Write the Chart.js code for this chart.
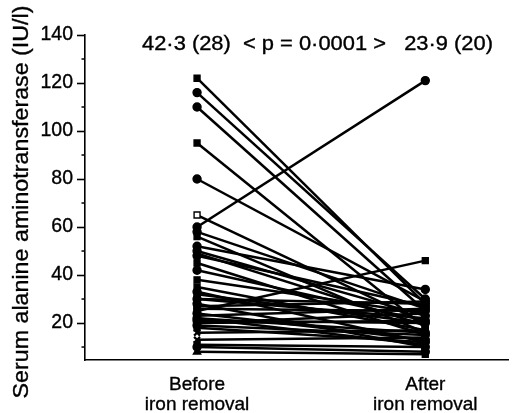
<!DOCTYPE html>
<html><head><meta charset="utf-8">
<script src="https://cdn.jsdelivr.net/npm/chart.js@4"></script>
<style>html,body{margin:0;padding:0;background:#fff}#w{width:515px;height:413px}</style>
</head><body><div id="w"><canvas id="c"></canvas></div>
<script>
const categories = [["Before","iron removal"],["After","iron removal"]];
const beforeValues = [122,116,110,95,80,65,60,58,56,52,50,49,48,45,42,38,35,33,32,30,30,28,27,26,25,24,23,22,22,21,20,20,19,18,16,13,11,10,8];
const afterValues  = [28,30,25,18,29,20,121,26,16,34,23,19,27,15,21,24,17,12,20,28,22,10,29,25,46,13,26,16,11,20,21,24,15,12,17,14,10,8,7];
const markers = ['rect','circle','circle','rect','circle','rectOpen','circle','circle','rect','circle','circle','rect','circle','rect','circle','rect','rect','circle','rect','circle','rect','circle','rect','rect','rect','circle','rect','circle','rect','circle','rect','rect','circle','rect','crossRot','crossRot','rect','circle','triangle'];
const afterMarkers = ['rect','circle','circle','rect','circle','rect','circle','circle','rect','circle','circle','rect','circle','rect','circle','rect','rect','circle','rect','circle','rect','circle','rect','rect','rect','circle','rect','circle','rect','circle','rect','rect','circle','rect','rect','rect','rect','circle','rect'];
const yTicks = [20,40,60,80,100,120,140];
const yMinorTicks = [10,30,50,70,90,110,130];
const headerText = "42\u00b73 (28)  < p = 0\u00b70001 >   23\u00b79 (20)";
const yTitle = "Serum alanine aminotransferase (IU/l)";

const FONT = "'Liberation Sans', Arial, Helvetica, sans-serif";

function styleOf(m){ return m==='rectOpen' ? 'rect' : m; }
const datasets = beforeValues.map((b,i)=>{
  const m0 = markers[i] || 'rect', m1 = afterMarkers[i] || 'rect';
  return {
    data:[{x:0,y:b},{x:1,y:afterValues[i]}],
    showLine:true,
    borderColor:'#000',
    borderWidth:2.5,
    pointStyle:[styleOf(m0), styleOf(m1)],
    pointBackgroundColor:[m0==='rectOpen'?'#fff':'#000', m1==='rectOpen'?'#fff':'#000'],
    pointBorderColor:'#000',
    pointBorderWidth:[m0==='crossRot'?2.2:1.4, m1==='crossRot'?2.2:1.4],
    pointRadius:[m0==='circle'?4:4.2, m1==='circle'?4:4.2],
    pointHoverRadius:4
  };
});

const deco = {
  id:'deco',
  afterDraw(chart){
    const ctx = chart.ctx;
    const y = chart.scales.y;
    ctx.save();
    ctx.strokeStyle='#000'; ctx.lineWidth=1.5;
    yMinorTicks.forEach(v=>{
      const py = y.getPixelForValue(v);
      ctx.beginPath(); ctx.moveTo(y.right-3.5,py); ctx.lineTo(y.right,py); ctx.stroke();
    });
    ctx.fillStyle='#000';
    ctx.strokeStyle='#000'; ctx.lineWidth=0.35;
    ctx.font = "20px " + FONT;
    ctx.textBaseline='alphabetic';
    ctx.textAlign='left';
    const w = ctx.measureText(headerText).width;
    ctx.save();
    ctx.translate(142,50);
    ctx.scale(351/w,1);
    ctx.fillText(headerText,0,0);
    ctx.strokeText(headerText,0,0);
    ctx.restore();
    ctx.translate(28,202);
    ctx.rotate(-Math.PI/2);
    ctx.font = "22px " + FONT;
    const tw = ctx.measureText(yTitle).width;
    ctx.scale(393/tw,1);
    ctx.textAlign='center';
    ctx.fillText(yTitle,0,0);
    ctx.strokeText(yTitle,0,0);
    ctx.restore();
  }
};

new Chart(document.getElementById('c'),{
  type:'scatter',
  data:{datasets},
  options:{
    responsive:true, maintainAspectRatio:false, animation:false,
    layout:{padding:{top:35,right:3,left:0,bottom:0}},
    plugins:{legend:{display:false},tooltip:{enabled:false}},
    scales:{
      x:{
        type:'linear', min:-0.491, max:1.365,
        afterBuildTicks(s){ s.ticks = [{value:0},{value:1}]; },
        afterFit(s){ s.height = 53; },
        ticks:{ callback:(v)=> categories[v] || '', color:'#000', font:{size:19, family:FONT, lineHeight:1.05}, padding:15, maxRotation:0, autoSkip:false, textStrokeColor:'#000', textStrokeWidth:0.35 },
        grid:{display:true, drawOnChartArea:false, drawTicks:false, color:'rgba(0,0,0,0)'},
        border:{display:true, color:'#000', width:1.6}
      },
      y:{
        min:4.6, max:140,
        afterBuildTicks(s){ s.ticks = yTicks.map(v=>({value:v})); },
        afterFit(s){ s.width = 85; },
        ticks:{ color:'#000', font:{size:19.5, family:FONT}, padding:4, textStrokeColor:'#000', textStrokeWidth:0.35 },
        grid:{ drawOnChartArea:false, tickLength:8, tickColor:'#000', tickWidth:1.6 },
        border:{display:true, color:'#000', width:1.6}
      }
    }
  },
  plugins:[deco]
});
</script></body></html>
